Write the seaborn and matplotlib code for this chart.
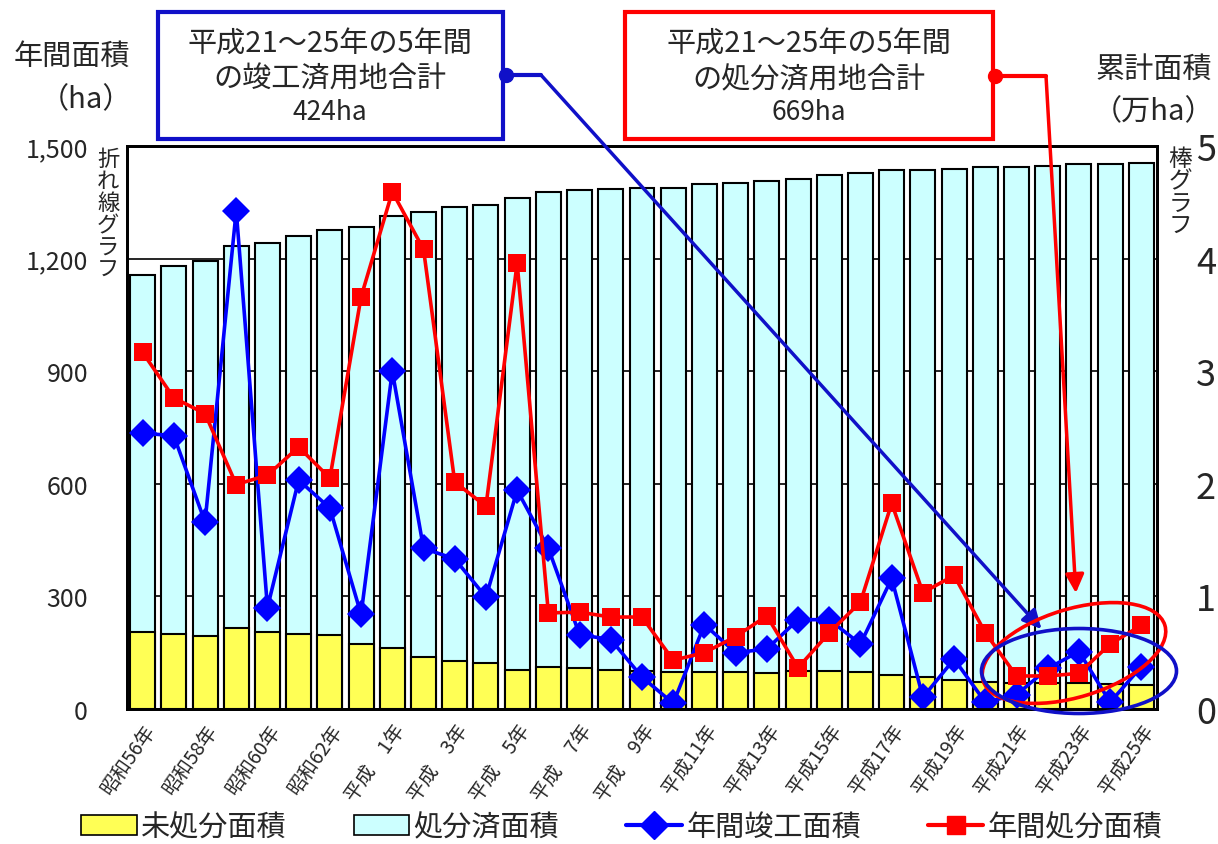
import matplotlib
matplotlib.use("Agg")
import matplotlib.pyplot as plt
import seaborn as sns
import pandas as pd
import numpy as np
from matplotlib.patches import Rectangle, Ellipse, ConnectionPatch, Patch
from matplotlib.lines import Line2D

# data
years = ["昭和56年", "昭和57年", "昭和58年", "昭和59年", "昭和60年", "昭和61年", "昭和62年", "昭和63年",
         "平成\u30001年", "平成\u30002年", "平成\u30003年", "平成\u30004年", "平成\u30005年",
         "平成\u30006年", "平成\u30007年", "平成\u30008年", "平成\u30009年", "平成10年",
         "平成11年", "平成12年", "平成13年", "平成14年", "平成15年", "平成16年", "平成17年",
         "平成18年", "平成19年", "平成20年", "平成21年", "平成22年", "平成23年", "平成24年", "平成25年"]

# cumulative areas (万ha), bar chart on the right axis
total_area = [3.85, 3.93, 3.98, 4.11, 4.14, 4.20, 4.25, 4.28,
              4.38, 4.41, 4.46, 4.48, 4.54, 4.59, 4.61, 4.62, 4.63, 4.63, 4.66, 4.67,
              4.69, 4.71, 4.74, 4.76, 4.79, 4.79, 4.80, 4.81, 4.81, 4.82, 4.84, 4.84, 4.85]
undisposed = [0.68, 0.67, 0.65, 0.72, 0.68, 0.67, 0.66, 0.58,
              0.54, 0.46, 0.43, 0.41, 0.35, 0.37, 0.36, 0.35, 0.34, 0.33, 0.33, 0.33,
              0.32, 0.34, 0.34, 0.33, 0.30, 0.28, 0.26, 0.24, 0.23, 0.23, 0.23, 0.22, 0.21]

# annual areas (ha), line chart on the left axis
completed = [735, 728, 498, 1328, 270, 610, 535, 252,
             900, 428, 400, 298, 583, 428, 198, 185, 85, 15, 225, 150,
             160, 238, 238, 173, 348, 31, 133, 18, 38, 108, 153, 18, 113]
disposed = [950, 829, 787, 598, 623, 698, 615, 1098,
            1378, 1225, 605, 540, 1188, 256, 258, 245, 245, 130, 150, 193,
            248, 110, 203, 285, 548, 310, 356, 203, 88, 88, 95, 173, 223]

left_ticks = [0, 300, 600, 900, 1200, 1500]
left_labels = ["0", "300", "600", "900", "1,200", "1,500"]
right_ticks = [0, 1, 2, 3, 4, 5]

sns.set_style("white")
plt.rcParams["font.family"] = ["Noto Sans CJK JP", "DejaVu Sans"]

YELLOW = "#FFFF55"
CYAN = "#CCFFFF"
BLUE = "#0000FF"
DBLUE = "#1010C8"
RED = "#FF0000"

W, H = 1218, 845
def fx(px):
    return px / W
def fy(py):
    return 1 - py / H

df = pd.DataFrame({"year": years, "total": total_area, "undisposed": undisposed,
                   "completed": completed, "disposed": disposed})
df["idx"] = np.arange(len(df))

fig = plt.figure(figsize=(12.18, 8.45), dpi=100)
ax = fig.add_axes([fx(127), fy(710), fx(1157) - fx(127), fy(147) - fy(710)])
ax2 = ax.twinx()

# stacked bars: total in cyan, undisposed in yellow on top of it
sns.barplot(data=df, x="year", y="total", color=CYAN, saturation=1, width=0.8,
            edgecolor="black", linewidth=1.5, ax=ax)
sns.barplot(data=df, x="year", y="undisposed", color=YELLOW, saturation=1, width=0.8,
            edgecolor="black", linewidth=1.5, ax=ax)
ax.set_ylim(0, 5)
ax.set_xlim(-0.5, len(years) - 0.5)
ax.set_xlabel("")
ax.set_ylabel("")
ax.yaxis.grid(True, color="black", linewidth=1.2)
ax.set_axisbelow(True)
ax.set_xticks(range(0, len(years), 2))
ax.set_xticklabels(years[::2], rotation=55, ha="right", va="top",
                   rotation_mode="anchor", fontsize=14)
ax.set_xticks(np.arange(-0.5, len(years), 1), minor=True)
ax.tick_params(axis="x", which="major", length=0, pad=8)
ax.tick_params(axis="x", which="minor", length=5, direction="in", width=1.2)

# lines on the twin axis
sns.lineplot(data=df, x="idx", y="completed", ax=ax2, color=BLUE, linewidth=2.6,
             marker="D", markersize=14, markeredgecolor=BLUE, markeredgewidth=0)
sns.lineplot(data=df, x="idx", y="disposed", ax=ax2, color=RED, linewidth=2.6,
             marker="s", markersize=13, markeredgecolor=RED, markeredgewidth=0)
ax2.set_ylim(0, 1500)
ax2.set_xlim(-0.5, len(years) - 0.5)
ax2.set_xlabel("")
ax2.set_ylabel("")

# bar scale on the right, line scale on the left
ax.yaxis.tick_right()
ax.set_yticks(right_ticks)
ax.set_yticklabels([str(t) for t in right_ticks], fontsize=26)
ax.tick_params(axis="y", length=0, pad=28)
ax2.yaxis.tick_left()
ax2.set_yticks(left_ticks)
ax2.set_yticklabels(left_labels, fontsize=18)
ax2.tick_params(axis="y", length=0, pad=28)
for a in (ax, ax2):
    for s in a.spines.values():
        s.set_color("black")
        s.set_linewidth(2)

# axis captions
fig.text(fx(130), fy(57), "年間面積", ha="right", va="center", fontsize=21)
fig.text(fx(132), fy(100), "（ha）", ha="right", va="center", fontsize=21)
fig.text(fx(1212), fy(70), "累計面積", ha="right", va="center", fontsize=21)
fig.text(fx(1214), fy(112), "（万ha）", ha="right", va="center", fontsize=21)
fig.text(fx(108), fy(215), "\n".join("折れ線グラフ"), ha="center", va="center",
         fontsize=16, linespacing=0.95)
fig.text(fx(1180), fy(193), "\n".join("棒グラフ"), ha="center", va="center",
         fontsize=17, linespacing=0.95)

# callout boxes
fig.add_artist(Rectangle((fx(158), fy(140)), fx(503) - fx(158), fy(13) - fy(140),
                         transform=fig.transFigure, fill=False, edgecolor=DBLUE, linewidth=3))
fig.text(fx(330), fy(45), "平成21～25年の5年間", ha="center", va="center", fontsize=21)
fig.text(fx(330), fy(80), "の竣工済用地合計", ha="center", va="center", fontsize=21)
fig.text(fx(330), fy(113), "424ha", ha="center", va="center", fontsize=19)

fig.add_artist(Rectangle((fx(625), fy(140)), fx(993) - fx(625), fy(13) - fy(140),
                         transform=fig.transFigure, fill=False, edgecolor=RED, linewidth=3))
fig.text(fx(809), fy(45), "平成21～25年の5年間", ha="center", va="center", fontsize=21)
fig.text(fx(809), fy(80), "の処分済用地合計", ha="center", va="center", fontsize=21)
fig.text(fx(809), fy(113), "669ha", ha="center", va="center", fontsize=19)

# connectors from boxes to the circled period
fig.add_artist(Line2D([fx(506), fx(541)], [fy(76), fy(76)], color=DBLUE, linewidth=3,
                      transform=fig.transFigure))
fig.add_artist(Line2D([fx(506)], [fy(76)], marker="o", markersize=10, color=DBLUE,
                      transform=fig.transFigure))
fig.add_artist(ConnectionPatch(xyA=(fx(541), fy(76)), coordsA="figure fraction",
                               xyB=(28.8, 213), coordsB=ax2.transData,
                               arrowstyle="-|>", mutation_scale=28, color=DBLUE,
                               linewidth=2.5, shrinkA=0, shrinkB=0))
fig.add_artist(Line2D([fx(995), fx(1046)], [fy(77), fy(77)], color=RED, linewidth=3,
                      transform=fig.transFigure))
fig.add_artist(Line2D([fx(995)], [fy(77)], marker="o", markersize=10, color=RED,
                      transform=fig.transFigure))
fig.add_artist(ConnectionPatch(xyA=(fx(1046), fy(77)), coordsA="figure fraction",
                               xyB=(29.9, 309), coordsB=ax2.transData,
                               arrowstyle="-|>", mutation_scale=28, color=RED,
                               linewidth=2.5, shrinkA=0, shrinkB=0))

# ellipses drawn in inch space so the rotation keeps its shape
fig.add_artist(Ellipse((10.74, (H - 654) / 100), 1.90, 0.88, angle=17,
                       transform=fig.dpi_scale_trans, fill=False, edgecolor=RED, linewidth=2.6))
fig.add_artist(Ellipse((10.79, (H - 672) / 100), 1.95, 0.85, angle=0,
                       transform=fig.dpi_scale_trans, fill=False, edgecolor=DBLUE, linewidth=2.6))

# legend
handles = [Patch(facecolor=YELLOW, edgecolor="black", linewidth=1.2),
           Patch(facecolor=CYAN, edgecolor="black", linewidth=1.2),
           Line2D([], [], color=BLUE, marker="D", markersize=14, linewidth=3),
           Line2D([], [], color=RED, marker="s", markersize=13, linewidth=3)]
labels = ["未処分面積", "処分済面積", "年間竣工面積", "年間処分面積"]
fig.legend(handles, labels, loc="center", bbox_to_anchor=(fx(622), fy(828)), ncol=4,
           frameon=False, fontsize=21, handlelength=1.9, handleheight=0.7,
           handletextpad=0.15, columnspacing=2.3)

fig.savefig("out.png", dpi=100)
